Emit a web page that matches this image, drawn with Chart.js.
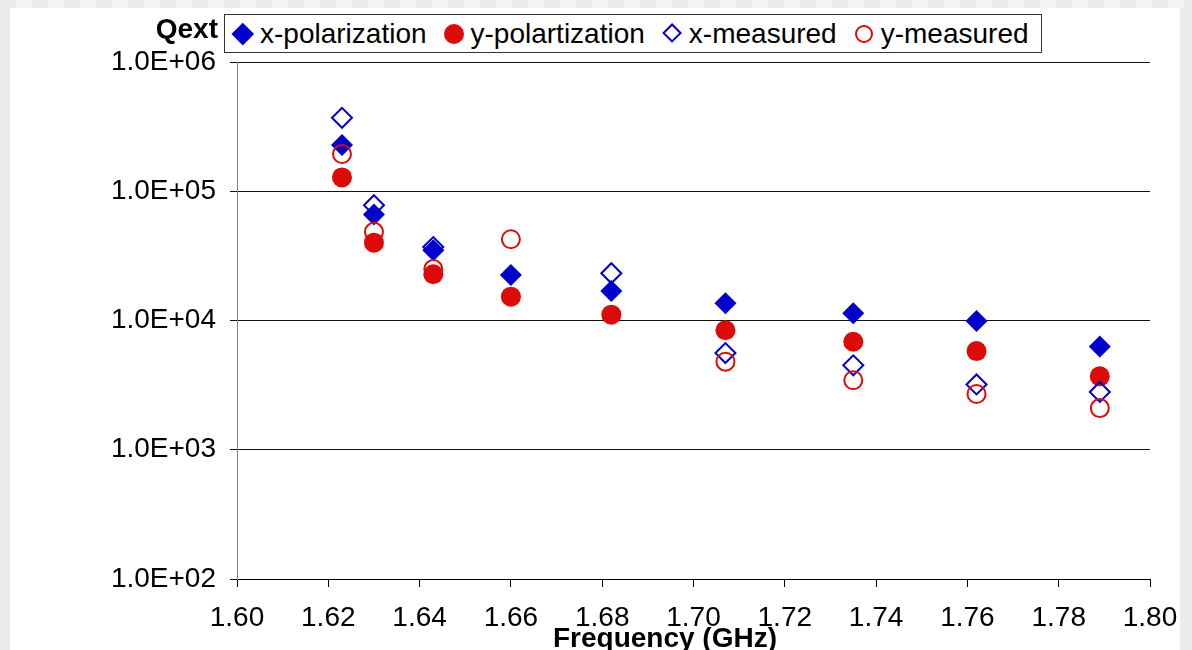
<!DOCTYPE html>
<html lang="en">
<head>
  <meta charset="UTF-8">
  <title>Qext vs Frequency</title>
  <script src="https://cdn.jsdelivr.net/npm/chart.js@4.4.1/dist/chart.umd.min.js"></script>
  <style>
    html, body {
      margin: 0;
      padding: 0;
      width: 1192px;
      height: 650px;
      overflow: hidden;
      background: #ebebeb;
      font-family: "Liberation Sans", Arial, sans-serif;
    }
    #topStrip {
      position: absolute;
      left: 0; top: 0;
      width: 1192px; height: 8px;
      background: repeating-linear-gradient(to right, #ebebeb 0 16px, #f3f3f3 16px 32px);
    }
    #panel {
      position: absolute;
      left: 10px; top: 8px;
      width: 1170px; height: 642px;
      background: #fff;
    }
    #chart {
      position: absolute;
      left: 0; top: 0;
    }
    #legend {
      position: absolute;
      left: 214px; top: 6px;
      height: 37px;
      border: 1px solid #333;
      background: #fff;
      display: flex;
      align-items: center;
      gap: 16px;
      padding: 0 12px 0 7px;
      font-size: 28px;
      color: #000;
      white-space: nowrap;
    }
    .item { display: flex; align-items: center; }
    .mark {
      width: 22px; height: 22px;
      margin-right: 6px;
      position: relative;
    }
    .mark i {
      position: absolute;
      box-sizing: border-box;
    }
  </style>
</head>
<body>
  <div id="topStrip"></div>
  <div id="panel">
    <canvas id="chart" width="1170" height="642"></canvas>
    <div id="legend"></div>
  </div>

  <script>
    // frequency (GHz) of each simulated / measured mode
    const freqs = [1.623, 1.630, 1.643, 1.660, 1.682, 1.707, 1.735, 1.762, 1.789];
    const xPol  = [2.28e5, 6.6e4, 3.5e4, 2.25e4, 1.69e4, 1.36e4, 1.14e4, 9.9e3, 6.3e3];
    const yPol  = [1.28e5, 4.0e4, 2.28e4, 1.53e4, 1.11e4, 8.4e3, 6.85e3, 5.8e3, 3.7e3];
    const xMeas = [3.7e5, 7.8e4, 3.7e4, null, 2.32e4, 5.6e3, 4.5e3, 3.2e3, 2.8e3];
    const yMeas = [1.94e5, 4.85e4, 2.5e4, 4.25e4, null, 4.8e3, 3.45e3, 2.7e3, 2.1e3];

    const xTicks = [1.60, 1.62, 1.64, 1.66, 1.68, 1.70, 1.72, 1.74, 1.76, 1.78, 1.80];
    const yTicks = [1e2, 1e3, 1e4, 1e5, 1e6];
    const xTitle = 'Frequency (GHz)';
    const yTitle = 'Qext';

    const blue = '#0000cc';
    const red = '#dd0a0a';
    const FONT = '"Liberation Sans", Arial, sans-serif';

    function pts(vals) {
      return freqs.map((f, i) => ({x: f, y: vals[i]})).filter(p => p.y !== null);
    }
    function sci(v) {
      const e = Math.round(Math.log10(v));
      const m = v / Math.pow(10, e);
      return m.toFixed(1) + 'E' + (e < 0 ? '-' : '+') + String(Math.abs(e)).padStart(2, '0');
    }

    const datasets = [
      {label: 'x-polarization', data: pts(xPol), pointStyle: 'rectRot', pointRadius: 11,
       backgroundColor: blue, borderColor: blue, borderWidth: 0, order: 3, filled: true},
      {label: 'y-polartization', data: pts(yPol), pointStyle: 'circle', pointRadius: 10,
       backgroundColor: red, borderColor: red, borderWidth: 0, order: 2, filled: true},
      {label: 'x-measured', data: pts(xMeas), pointStyle: 'rectRot', pointRadius: 10,
       backgroundColor: 'rgba(0,0,0,0)', borderColor: blue, borderWidth: 2, order: 1, filled: false},
      {label: 'y-measured', data: pts(yMeas), pointStyle: 'circle', pointRadius: 9,
       backgroundColor: 'rgba(0,0,0,0)', borderColor: red, borderWidth: 2, order: 0, filled: false}
    ];

    const axisTitles = {
      id: 'axisTitles',
      afterDraw(chart) {
        const ctx = chart.ctx;
        ctx.save();
        ctx.fillStyle = '#000';
        ctx.font = 'bold 28px ' + FONT;
        ctx.textBaseline = 'alphabetic';
        ctx.textAlign = 'right';
        ctx.fillText(yTitle, 208, 30);
        ctx.textAlign = 'center';
        ctx.fillText(xTitle, 655, 639);
        ctx.restore();
      }
    };

    const chart = new Chart(document.getElementById('chart'), {
      type: 'scatter',
      data: {datasets},
      plugins: [axisTitles],
      options: {
        responsive: false,
        animation: false,
        layout: {padding: {top: 54, right: 30, left: 0, bottom: 0}},
        plugins: {legend: {display: false}, tooltip: {enabled: false}},
        scales: {
          x: {
            type: 'linear', min: 1.6, max: 1.8,
            afterBuildTicks: s => { s.ticks = xTicks.map(v => ({value: v})); },
            afterFit: s => { s.height = 71; s.paddingLeft = 0; s.paddingRight = 0; },
            ticks: {
              color: '#000', padding: 14, maxRotation: 0, autoSkip: false,
              font: {family: FONT, size: 28},
              callback: v => v.toFixed(2)
            },
            grid: {drawOnChartArea: false, drawTicks: true, tickLength: 8, color: '#000'},
            border: {color: '#000', width: 1}
          },
          y: {
            type: 'logarithmic', min: 1e2, max: 1e6,
            afterBuildTicks: s => { s.ticks = yTicks.map(v => ({value: v})); },
            afterFit: s => { s.width = 227; s.paddingTop = 0; s.paddingBottom = 0; },
            ticks: {
              color: '#000', padding: 14, autoSkip: false,
              font: {family: FONT, size: 28},
              callback: v => sci(v)
            },
            grid: {color: '#111', tickLength: 7, drawTicks: true},
            border: {color: '#808080', width: 1}
          }
        }
      }
    });

    // html legend built from the datasets
    const legend = document.getElementById('legend');
    chart.data.datasets.forEach(ds => {
      const item = document.createElement('div');
      item.className = 'item';
      const mark = document.createElement('span');
      mark.className = 'mark';
      const shape = document.createElement('i');
      const round = ds.pointStyle === 'circle';
      const d = round ? ds.pointRadius * 2 : ds.pointRadius * Math.SQRT2;
      shape.style.width = d + 'px';
      shape.style.height = d + 'px';
      shape.style.left = (22 - d) / 2 + 'px';
      shape.style.top = (22 - d) / 2 + 'px';
      if (round) shape.style.borderRadius = '50%';
      else shape.style.transform = 'rotate(45deg)';
      if (ds.filled) shape.style.background = ds.backgroundColor;
      else shape.style.border = ds.borderWidth + 'px solid ' + ds.borderColor;
      mark.appendChild(shape);
      const txt = document.createElement('span');
      txt.textContent = ds.label;
      item.appendChild(mark);
      item.appendChild(txt);
      legend.appendChild(item);
    });
  </script>
</body>
</html>
